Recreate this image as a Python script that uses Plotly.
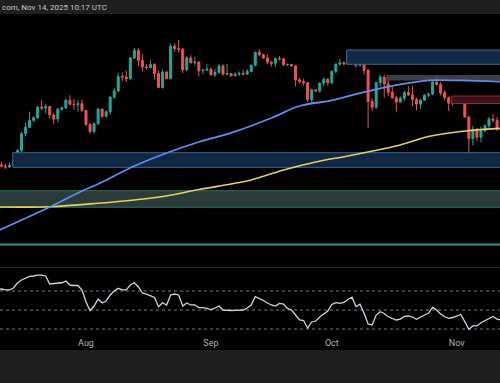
import math
import pandas as pd
import plotly.graph_objects as go

W, H = 500, 383

dates = pd.date_range("2025-07-10", "2025-11-12", freq="D")

opens = [
    2770, 2950, 2935, 2925, 2945, 3020, 3134, 3360, 3450, 3550, 3590, 3750, 3735, 3760, 3630, 3570, 3715, 3740, 3860, 3795, 3790, 3805,
    3700, 3490, 3390, 3500, 3720, 3610, 3680, 3910, 4010, 4260, 4250, 4220, 4600, 4750, 4550, 4430, 4420, 4475, 4310, 4070, 4340, 4220, 4830, 4780, 4770, 4380, 4600, 4510, 4520, 4360, 4370,
    4390, 4290, 4330, 4450, 4300, 4310, 4270, 4300, 4310, 4300, 4350, 4460, 4710, 4660, 4600, 4520, 4500, 4590, 4580, 4470, 4480, 4450, 4200, 4170, 4150, 3870, 4030, 4010, 4140, 4210,
    4150, 4350, 4480, 4510, 4490, 4520, 4690, 4460, 4530, 4370, 3840, 3750, 4150, 4250, 4130, 3990, 3900, 3830, 3890, 3980, 3945, 3870, 3800, 3860, 3940, 3960, 4160, 4120, 3980, 3900, 3810,
    3850, 3880, 3900, 3600, 3290, 3420, 3310, 3400, 3470, 3570, 3550, 3420,
]
highs = [
    2990, 2990, 2960, 2985, 3060, 3150, 3380, 3520, 3680, 3610, 3770, 3860, 3800, 3770, 3660, 3740, 3760, 3890, 3940, 3880, 3860, 3870,
    3710, 3510, 3520, 3740, 3730, 3700, 3920, 4060, 4320, 4330, 4360, 4620, 4790, 4790, 4670, 4480, 4560, 4500, 4370, 4380, 4350, 4880, 4890, 4955, 4790, 4640, 4650, 4620, 4540, 4400, 4480,
    4420, 4390, 4490, 4480, 4490, 4320, 4330, 4350, 4380, 4390, 4480, 4720, 4770, 4680, 4670, 4540, 4600, 4640, 4600, 4490, 4480, 4460, 4230, 4220, 4160, 4050, 4040, 4160, 4240, 4230,
    4360, 4500, 4580, 4530, 4600, 4750, 4750, 4540, 4540, 4390, 3890, 4170, 4290, 4280, 4210, 4080, 3930, 3920, 4010, 4090, 4100, 3900, 3880, 3960, 3980, 4180, 4260, 4160, 4030, 3920, 3880,
    3900, 3920, 3910, 3620, 3470, 3440, 3460, 3490, 3600, 3650, 3600, 3480,
]
lows = [
    2760, 2920, 2900, 2915, 2930, 2990, 3110, 3320, 3440, 3520, 3570, 3700, 3650, 3580, 3500, 3520, 3700, 3720, 3780, 3710, 3680, 3680,
    3470, 3360, 3360, 3480, 3580, 3590, 3640, 3880, 3990, 4180, 4160, 4200, 4580, 4450, 4350, 4380, 4400, 4210, 4060, 4050, 4210, 4210, 4720, 4700, 4320, 4350, 4490, 4460, 4260, 4300, 4370,
    4270, 4250, 4310, 4270, 4280, 4260, 4270, 4270, 4280, 4290, 4340, 4440, 4630, 4580, 4480, 4440, 4430, 4550, 4450, 4450, 4440, 4090, 4140, 4100, 3830, 3820, 3990, 3980, 4090, 4100,
    4130, 4320, 4460, 4450, 4470, 4500, 4420, 4440, 4290, 3435, 3690, 3720, 4090, 3900, 3930, 3880, 3680, 3820, 3850, 3930, 3760, 3700, 3720, 3850, 3910, 3940, 4100, 3940, 3860, 3690, 3770,
    3830, 3840, 3590, 3060, 3200, 3260, 3240, 3380, 3440, 3520, 3400, 3380,
]
closes = [
    2950, 2935, 2925, 2945, 3020, 3134, 3360, 3450, 3550, 3590, 3750, 3735, 3760, 3630, 3570, 3715, 3740, 3860, 3795, 3790, 3805, 3700,
    3490, 3390, 3500, 3720, 3610, 3680, 3910, 4010, 4260, 4250, 4220, 4600, 4750, 4550, 4430, 4420, 4475, 4310, 4070, 4340, 4220, 4830, 4780, 4770, 4380, 4600, 4510, 4520, 4360, 4370, 4390,
    4290, 4330, 4450, 4300, 4310, 4270, 4300, 4310, 4300, 4350, 4460, 4710, 4660, 4600, 4520, 4500, 4590, 4580, 4470, 4480, 4450, 4200, 4170, 4150, 3870, 4030, 4010, 4140, 4210, 4150,
    4350, 4480, 4510, 4490, 4520, 4690, 4460, 4530, 4370, 3840, 3750, 4150, 4250, 4130, 3990, 3900, 3830, 3890, 3980, 3945, 3870, 3800, 3860, 3940, 3960, 4160, 4120, 3980, 3900, 3810, 3850,
    3880, 3900, 3600, 3290, 3420, 3310, 3400, 3470, 3570, 3550, 3420, 3410,
]
rsi = [
    72, 72.1, 71.1, 71.1, 73.2, 78.4, 81.6, 83.7, 85.3, 85.8, 86.8, 86.8, 85.8, 77.4, 77.9, 78.4, 78.7, 80.5, 76.3, 75.8, 75.8, 71.1,
    58.4, 49.5, 54.2, 61.6, 57.4, 59.5, 65.8, 70, 72.8, 71.1, 71.1, 76.3, 78.7, 74.2, 67.9, 66.8, 65.3, 63.2, 53.5, 57.7, 55.3, 65.8, 66.8, 65.8, 54.2, 57.4, 55.3, 55.3, 52.4, 52.4, 51.6,
    50.5, 52.1, 54.2, 50, 49.5, 49.5, 49.7, 50, 50, 52.1, 55.3, 64, 62.1, 60, 57.4, 55.3, 54.2, 57, 56.3, 51.6, 50, 44.7, 39.5, 38.9, 31, 37.4, 38.4, 42.6, 45.8, 48.9,
    55.8, 57.7, 57, 57.9, 61.1, 63.4, 53.5, 56, 46.5, 35.3, 34.2, 44.7, 48.2, 46.3, 42.9, 41, 39.5, 40.5, 43.2, 43.7, 42.6, 40.2, 42.1, 44.7, 46.8, 52.8, 50, 45.8, 42.9, 41.3, 42.1,
    43.7, 45.3, 37.7, 29.7, 33.2, 33.2, 36.6, 38.9, 41.6, 43.2, 40.5, 39.5,
]

ma_blue_dates = ["2025-07-10", "2025-07-23", "2025-07-31", "2025-08-04", "2025-08-13", "2025-08-21", "2025-08-29", "2025-09-06",
                 "2025-09-16", "2025-09-23", "2025-10-01", "2025-10-06", "2025-10-13", "2025-10-18", "2025-10-25", "2025-11-02", "2025-11-12"]
ma_blue = [2243, 2478, 2648, 2726, 2937, 3100, 3245, 3369, 3585, 3768, 3855, 3941, 4052, 4120, 4189, 4189, 4167]

ma_yellow_dates = ["2025-07-10", "2025-07-23", "2025-08-04", "2025-08-13", "2025-08-21", "2025-08-29", "2025-09-06", "2025-09-11",
                   "2025-09-19", "2025-09-27", "2025-10-05", "2025-10-13", "2025-10-18", "2025-10-25", "2025-11-02", "2025-11-12"]
ma_yellow = [2478, 2481, 2516, 2551, 2594, 2664, 2726, 2772, 2889, 2987, 3062, 3146, 3205, 3320, 3390, 3435]

# zones: (start, end, low, high)
zone_support = ("2025-07-13 20:00", "2025-12-01", 2921, 3104)
zone_lower = ("2025-06-01", "2025-12-01", 2475, 2651)
zone_top = ("2025-10-04 16:00", "2025-12-01", 4480, 4753)
zone_gray = ("2025-10-14 12:00", "2025-12-01", 4189, 4283)
zone_red = ("2025-10-30 18:00", "2025-12-01", 3807, 3927)
level_line = 2121

rsi_levels = [70, 50, 30]
month_ticks = ["2025-08-01", "2025-09-01", "2025-10-01", "2025-11-01"]
month_labels = ["Aug", "Sep", "Oct", "Nov"]
header_text = "com, Nov 14, 2025 10:17 UTC"

x_range = ["2025-07-10 15:50", "2025-11-11 17:30"]


def py(pix):
    return 1 - pix / H


fig = go.Figure()


def zone(z, fill, border):
    x0, x1, lo, hi = z
    fig.add_trace(go.Scatter(
        x=[x0, x1, x1, x0, x0], y=[lo, lo, hi, hi, lo],
        mode="lines", fill="toself", fillcolor=fill,
        line=dict(color=border, width=1), hoverinfo="skip", showlegend=False,
        xaxis="x", yaxis="y"))


zone(zone_lower, "#2b3b39", "#2e6e63")
zone(zone_support, "#0f2644", "#3a6888")
zone(zone_top, "#112a4a", "#3b6a94")
zone(zone_gray, "rgba(80,84,90,0.75)", "rgba(80,84,90,0.0)")
zone(zone_red, "#3a1219", "#8c2a34")

fig.add_trace(go.Scatter(x=[x_range[0], "2025-12-01"], y=[level_line, level_line], mode="lines",
                         line=dict(color="#2a9383", width=2), hoverinfo="skip", showlegend=False,
                         xaxis="x", yaxis="y"))

fig.add_trace(go.Scatter(x=ma_yellow_dates, y=ma_yellow, mode="lines", line=dict(color="#e3d35e", width=1.6, shape="spline"),
                         showlegend=False, xaxis="x", yaxis="y"))
fig.add_trace(go.Scatter(x=ma_blue_dates, y=ma_blue, mode="lines", line=dict(color="#5e8ef0", width=1.8, shape="spline"),
                         showlegend=False, xaxis="x", yaxis="y"))

fig.add_trace(go.Candlestick(
    x=dates, open=opens, high=highs, low=lows, close=closes,
    increasing=dict(line=dict(color="#26a69a", width=1), fillcolor="#26a69a"),
    decreasing=dict(line=dict(color="#ef5350", width=1), fillcolor="#ef5350"),
    whiskerwidth=0, showlegend=False, xaxis="x", yaxis="y"))

for lv in rsi_levels:
    fig.add_trace(go.Scatter(x=[x_range[0], x_range[1]], y=[lv, lv], mode="lines",
                             line=dict(color="#7a7a7a", width=1, dash="3px,3px"),
                             hoverinfo="skip", showlegend=False, xaxis="x2", yaxis="y2"))

fig.add_trace(go.Scatter(x=dates, y=rsi, mode="lines", line=dict(color="#cfd6e4", width=1.3),
                         showlegend=False, xaxis="x2", yaxis="y2"))

top_log = math.log10(4955) + (40 - 14) * 0.00415 / math.log(10)
bot_log = math.log10(4955) - (267 - 40) * 0.00415 / math.log(10)

rsi_top_pix, rsi_bot_pix = 268, 336
rsi_top = 70 + (291 - rsi_top_pix) / 0.95
rsi_bot = 30 - (rsi_bot_pix - 329) / 0.95

fig.update_layout(
    width=W, height=H,
    margin=dict(l=0, r=0, t=0, b=0),
    paper_bgcolor="#1f1f1f", plot_bgcolor="#000000",
    font=dict(family="Roboto, Arial, sans-serif"),
    xaxis=dict(domain=[0, 1], anchor="y", range=x_range, type="date", showgrid=False, zeroline=False,
               showticklabels=False, ticks="", rangeslider=dict(visible=False), showline=False),
    yaxis=dict(domain=[py(267), py(14)], type="log", range=[bot_log, top_log], showgrid=False,
               zeroline=False, showticklabels=False, ticks="", showline=False),
    xaxis2=dict(domain=[0, 1], anchor="y2", range=x_range, type="date", matches="x", showgrid=False,
                zeroline=False, tickvals=month_ticks, ticktext=month_labels, ticks="", showline=False,
                tickfont=dict(size=9, color="#b4b4b4", family="Roboto, Arial, sans-serif")),
    yaxis2=dict(domain=[py(rsi_bot_pix), py(rsi_top_pix)], range=[rsi_bot, rsi_top], showgrid=False,
                zeroline=False, showticklabels=False, ticks="", showline=False),
    shapes=[
        dict(type="rect", xref="paper", yref="paper", x0=0, x1=1, y0=py(350), y1=py(14),
             fillcolor="#000000", line=dict(width=0), layer="below"),
        dict(type="line", xref="paper", yref="paper", x0=0, x1=1, y0=py(267.5), y1=py(267.5),
             line=dict(color="#2a2a2a", width=1)),
    ],
    annotations=[
        dict(text=header_text, xref="paper", yref="paper", x=0, y=py(7.5), xanchor="left", yanchor="middle",
             showarrow=False, font=dict(size=8, color="#c8c8c8", family="Roboto, Arial, sans-serif")),
    ],
)

fig.write_html("out.html", config={"displayModeBar": False},
               post_script="document.body.style.margin='0';document.body.style.overflow='hidden';")
